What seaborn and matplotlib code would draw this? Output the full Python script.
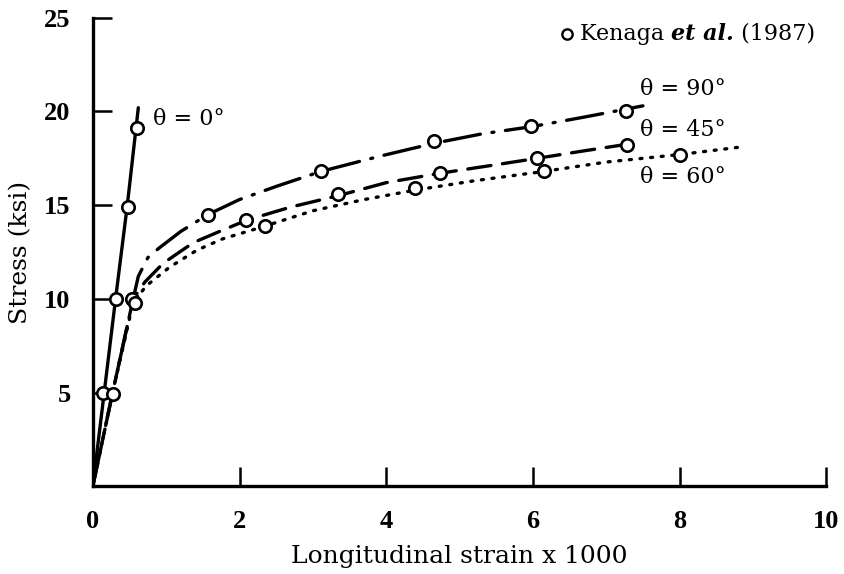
import matplotlib
matplotlib.use("Agg")
import matplotlib.pyplot as plt
import seaborn as sns
import pandas as pd

# Model curves: longitudinal strain (x1000) vs stress (ksi)
strain_0 = [0.0, 0.155, 0.31, 0.47, 0.62]
stress_0 = [0.0, 5.0, 10.0, 15.0, 20.2]

strain_90 = [0.0, 0.27, 0.55, 0.62, 0.75, 0.9, 1.2, 1.57, 2.0, 2.5, 3.11, 3.9, 4.65, 5.3, 6.0, 6.7, 7.5]
stress_90 = [0.0, 5.0, 10.0, 11.2, 12.2, 12.7, 13.6, 14.5, 15.3, 16.0, 16.8, 17.6, 18.3, 18.8, 19.2, 19.7, 20.3]

strain_45 = [0.0, 0.27, 0.55, 0.71, 0.96, 1.37, 1.73, 2.1, 2.7, 3.34, 4.0, 4.73, 5.4, 6.06, 6.7, 7.37]
stress_45 = [0.0, 5.0, 10.0, 10.9, 11.9, 13.0, 13.6, 14.2, 14.9, 15.5, 16.2, 16.7, 17.1, 17.5, 17.9, 18.3]

strain_60 = [0.0, 0.27, 0.55, 0.73, 1.05, 1.42, 1.77, 2.28, 3.0, 3.7, 4.39, 5.2, 6.15, 7.0, 8.0, 8.83]
stress_60 = [0.0, 5.0, 9.8, 10.7, 11.7, 12.6, 13.2, 13.8, 14.7, 15.3, 15.8, 16.3, 16.8, 17.3, 17.7, 18.1]

# Kenaga et al. (1987) measurements
exp_strain = [0.14, 0.31, 0.48, 0.60,
              1.57, 3.11, 4.65, 5.98, 7.27,
              0.27, 0.53, 2.09, 3.34, 4.73, 6.06, 7.28,
              0.57, 2.35, 4.39, 6.15, 8.0]
exp_stress = [5.0, 10.0, 14.9, 19.1,
              14.5, 16.8, 18.4, 19.2, 20.0,
              4.9, 10.0, 14.2, 15.6, 16.7, 17.5, 18.2,
              9.8, 13.9, 15.9, 16.8, 17.7]

x_ticks = [0, 2, 4, 6, 8, 10]
y_ticks = [5, 10, 15, 20, 25]
curve_labels = ["θ = 0°", "θ = 90°", "θ = 45°", "θ = 60°"]

sns.set_style("white")
plt.rcParams["font.family"] = ["DejaVu Serif", "Liberation Serif"]
plt.rcParams.update({
    "text.color": "black",
    "axes.labelcolor": "black",
    "xtick.color": "black",
    "ytick.color": "black",
})

fig = plt.figure(figsize=(8.44, 5.74), dpi=100)
ax = fig.add_axes([0.110, 0.153, 0.869, 0.816])

lw = 2.4
curves = [
    (strain_0, stress_0, None),
    (strain_90, stress_90, (11, 3.5, 0.6, 3.5)),
    (strain_45, stress_45, (7, 3.5)),
    (strain_60, stress_60, (0.6, 2.6)),
]
for xs, ys, dash in curves:
    df = pd.DataFrame({"strain": xs, "stress": ys})
    sns.lineplot(data=df, x="strain", y="stress", sort=False, ax=ax,
                 color="black", linewidth=lw)
    ln = ax.lines[-1]
    ln.set_solid_capstyle("round")
    ln.set_dash_capstyle("round")
    if dash is not None:
        ln.set_dashes(dash)

exp_df = pd.DataFrame({"strain": exp_strain, "stress": exp_stress})
sns.scatterplot(data=exp_df, x="strain", y="stress", ax=ax, s=80,
                facecolor="white", edgecolor="black", linewidth=1.9, zorder=5)

ax.set_xlim(0, 10)
ax.set_ylim(0, 25)
ax.set_xticks(x_ticks)
ax.set_yticks(y_ticks)
tick_font = {"family": "Liberation Serif", "size": 19, "weight": "bold"}
ax.set_xticklabels([str(t) for t in x_ticks], fontdict=tick_font)
ax.set_yticklabels([str(t) for t in y_ticks], fontdict=tick_font)
ax.tick_params(axis="both", direction="in", length=14, width=1.8,
               color="black", labelcolor="black", bottom=True, left=True)
ax.tick_params(axis="x", pad=17)
ax.tick_params(axis="y", pad=16)

for side in ["top", "right"]:
    ax.spines[side].set_visible(False)
for side in ["left", "bottom"]:
    ax.spines[side].set_linewidth(2.4)
    ax.spines[side].set_color("black")

ax.set_xlabel("Longitudinal strain x 1000", fontsize=18, color="black")
ax.set_ylabel("Stress (ksi)", fontsize=18, color="black")
ax.xaxis.label.set_va("center")
ax.yaxis.label.set_va("center")
ax.xaxis.set_label_coords(0.5, -0.150)
ax.yaxis.set_label_coords(-0.099, 0.5)

# Curve labels
label_pos = [(0.82, 19.6), (7.46, 21.2), (7.46, 19.0), (7.46, 16.5)]
for txt, (lx, ly) in zip(curve_labels, label_pos):
    ax.text(lx, ly, txt, fontsize=16, va="center", ha="left", color="black")

# Legend for the measured points
leg_y = 24.15
ax.scatter([6.47], [leg_y], s=55, facecolor="white", edgecolor="black",
           linewidth=1.7, clip_on=False, zorder=5)
t1 = ax.text(6.64, leg_y, "Kenaga ", fontsize=16, va="center", ha="left",
             color="black")
fig.canvas.draw()
bb = t1.get_window_extent().transformed(ax.transData.inverted())
t2 = ax.text(bb.x1, leg_y, "et al.", fontsize=16, va="center", ha="left",
             style="italic", fontweight="bold", color="black")
fig.canvas.draw()
bb2 = t2.get_window_extent().transformed(ax.transData.inverted())
ax.text(bb2.x1, leg_y, " (1987)", fontsize=16, va="center", ha="left",
        color="black")

fig.savefig("out.png", dpi=100)
